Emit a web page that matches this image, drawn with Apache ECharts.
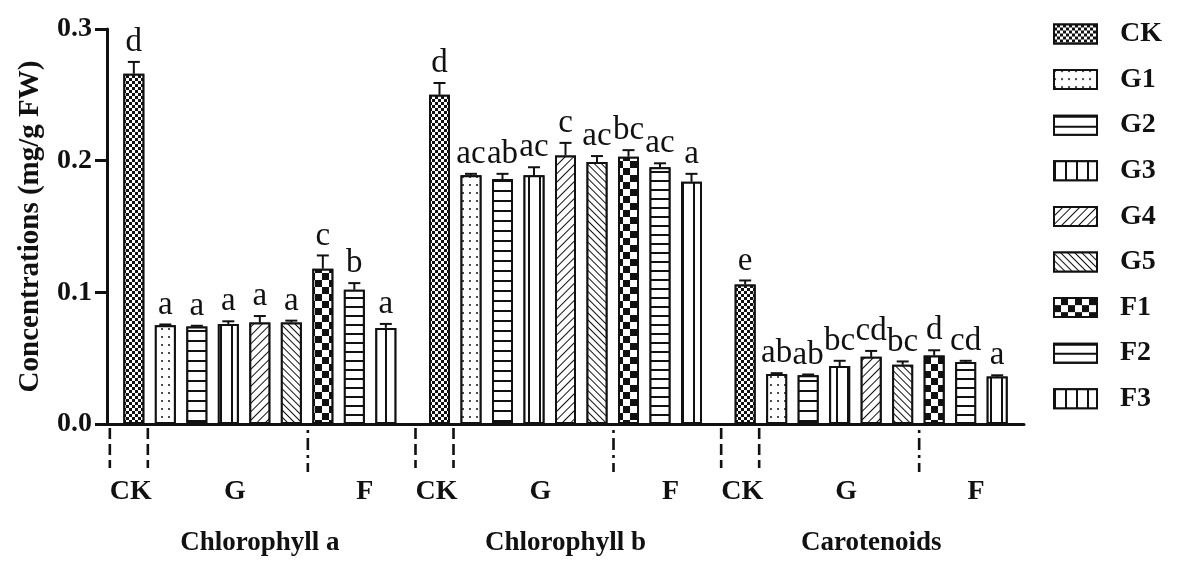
<!DOCTYPE html>
<html>
<head>
<meta charset="utf-8">
<script src="https://cdn.jsdelivr.net/npm/echarts@6/dist/echarts.min.js"></script>
<style>
html,body{margin:0;padding:0;background:#fff;}
#chart{width:1181px;height:575px;}
</style>
</head>
<body>
<div id="chart"></div>
<script>
// ---- data ----
const categories = ['Chlorophyll a', 'Chlorophyll b', 'Carotenoids'];
const treatments = ['CK', 'G1', 'G2', 'G3', 'G4', 'G5', 'F1', 'F2', 'F3'];
const chlA = [0.266, 0.075, 0.074, 0.076, 0.077, 0.077, 0.118, 0.102, 0.073];
const errA = [0.009, 0.0006, 0.0006, 0.002, 0.005, 0.0015, 0.010, 0.005, 0.003];
const chlB = [0.250, 0.189, 0.186, 0.189, 0.204, 0.199, 0.203, 0.195, 0.184];
const errB = [0.009, 0.001, 0.004, 0.006, 0.0095, 0.0045, 0.005, 0.003, 0.006];
const car  = [0.106, 0.038, 0.037, 0.044, 0.051, 0.045, 0.052, 0.047, 0.036];
const errC = [0.003, 0.0006, 0.0006, 0.004, 0.0045, 0.0025, 0.004, 0.001, 0.001];
const lettersA = ['d', 'a', 'a', 'a', 'a', 'a', 'c', 'b', 'a'];
const lettersB = ['d', 'ac', 'ab', 'ac', 'c', 'ac', 'bc', 'ac', 'a'];
const lettersC = ['e', 'ab', 'ab', 'bc', 'cd', 'bc', 'd', 'cd', 'a'];
const yTicks = [0, 0.1, 0.2, 0.3];

// ---- styles ----
const FONT = '"Liberation Serif", "Times New Roman", serif';
const INK = '#111';
const BAR_W = 21;
const SLOT = 31.5;           // bar width + gap (barGap 50%)
const decals = [
  {symbol:'rect', symbolSize:1, dashArrayX:[[3,3],[0,3,3,0]], dashArrayY:[3,0], color:INK, backgroundColor:'#fff'},
  {symbol:'circle', symbolSize:1, dashArrayX:[2,5], dashArrayY:[2,6], color:INK, backgroundColor:'#fff'},
  {symbol:'rect', symbolSize:1, dashArrayX:[10,0], dashArrayY:[2,8], color:INK, backgroundColor:'#fff'},
  {symbol:'rect', symbolSize:1, dashArrayX:[2,9], dashArrayY:[10,0], color:INK, backgroundColor:'#fff'},
  {symbol:'rect', symbolSize:1, dashArrayX:[10,0], dashArrayY:[1,5], rotation:-Math.PI/4, color:INK, backgroundColor:'#fff'},
  {symbol:'rect', symbolSize:1, dashArrayX:[10,0], dashArrayY:[1,4], rotation:Math.PI/4, color:INK, backgroundColor:'#fff'},
  {symbol:'rect', symbolSize:1, dashArrayX:[[7,7],[0,7,7,0]], dashArrayY:[7,0], color:INK, backgroundColor:'#fff'},
  {symbol:'rect', symbolSize:1, dashArrayX:[10,0], dashArrayY:[2,7], color:INK, backgroundColor:'#fff'},
  {symbol:'rect', symbolSize:1, dashArrayX:[2,9], dashArrayY:[10,0], color:INK, backgroundColor:'#fff'}
];

const groups = [chlA, chlB, car];
const errs = [errA, errB, errC];
const letters = [lettersA, lettersB, lettersC];

const barSeries = treatments.map((t, i) => ({
  name: t,
  type: 'bar',
  barWidth: BAR_W,
  barGap: '50%',
  data: groups.map(g => g[i]),
  itemStyle: {color:'#fff', borderColor:INK, borderWidth:2, decal:decals[i]},
  z: 2
}));

const errData = [];
groups.forEach((g, c) => {
  g.forEach((v, s) => errData.push([c, s, v, errs[c][s], letters[c][s]]));
});

const errSeries = {
  type: 'custom',
  silent: true,
  clip: false,
  z: 5,
  encode: {x: 0, y: 2},
  data: errData,
  renderItem: function (params, api) {
    const c = api.value(0), s = api.value(1), v = api.value(2), e = api.value(3);
    const letter = errData[params.dataIndex][4];
    const base = api.coord([c, v]);
    const top = api.coord([c, v + e]);
    const x = base[0] + (s - 4) * SLOT;
    return {
      type: 'group',
      children: [
        {type:'line', shape:{x1:x, y1:base[1], x2:x, y2:top[1]}, style:{stroke:INK, lineWidth:2}},
        {type:'line', shape:{x1:x - 6, y1:top[1], x2:x + 6, y2:top[1]}, style:{stroke:INK, lineWidth:2}},
        {type:'text', x:x, y:top[1] - 3, style:{text:letter, fontFamily:FONT, fontSize:33, fill:INK, align:'center', verticalAlign:'bottom'}}
      ]
    };
  }
};

const annotSeries = {
  type: 'custom',
  silent: true,
  clip: false,
  z: 5,
  encode: {x: 0, y: 1},
  data: categories.map((c, i) => [i, 0]),
  renderItem: function (params, api) {
    const p = api.coord([api.value(0), 0]);
    const cx = p[0], ay = p[1];
    const dash = {stroke:INK, lineWidth:2.6, lineDash:[11,5]};
    const dashDot = {stroke:INK, lineWidth:2.6, lineDash:[3,5,12,5]};
    const txt = (t, dx) => ({type:'text', x:cx + dx, y:ay + 68,
      style:{text:t, fontFamily:FONT, fontWeight:'bold', fontSize:28, fill:INK, align:'center', verticalAlign:'middle'}});
    return {
      type: 'group',
      children: [
        {type:'line', shape:{x1:cx - 150, y1:ay + 4, x2:cx - 150, y2:ay + 44}, style:dash},
        {type:'line', shape:{x1:cx - 112, y1:ay + 4, x2:cx - 112, y2:ay + 44}, style:dash},
        {type:'line', shape:{x1:cx + 48, y1:ay + 6, x2:cx + 48, y2:ay + 48}, style:dashDot},
        txt('CK', -129), txt('G', -25), txt('F', 105)
      ]
    };
  }
};

const chart = echarts.init(document.getElementById('chart'));
chart.setOption({
  animation: false,
  backgroundColor: '#fff',
  grid: {left:107, right:157, top:29, bottom:151},
  legend: {
    orient: 'vertical', left: 1053, top: 20, padding: 0,
    itemWidth: 43, itemHeight: 19, itemGap: 17.6, icon: 'rect',
    data: treatments,
    textStyle: {fontFamily:FONT, fontWeight:'bold', fontSize:28, lineHeight:28, color:INK, padding:[0,0,0,18]}
  },
  xAxis: {
    type: 'category', data: categories,
    axisLine: {lineStyle:{color:INK, width:3}},
    axisTick: {alignWithLabel:true, length:12, lineStyle:{color:INK, width:3}},
    axisLabel: {margin:106, fontFamily:FONT, fontWeight:'bold', fontSize:27, color:INK}
  },
  yAxis: {
    type: 'value', min: yTicks[0], max: yTicks[yTicks.length - 1], interval: 0.1,
    name: 'Concentrations (mg/g FW)', nameLocation: 'middle', nameGap: 62,
    nameTextStyle: {fontFamily:FONT, fontWeight:'bold', fontSize:29, color:INK},
    axisLine: {show:true, lineStyle:{color:INK, width:3}},
    axisTick: {show:true, length:12, lineStyle:{color:INK, width:3}},
    axisLabel: {margin:15, formatter: v => v.toFixed(1), fontFamily:FONT, fontWeight:'bold', fontSize:28, color:INK},
    splitLine: {show:false}
  },
  series: barSeries.concat([errSeries, annotSeries])
});
</script>
</body>
</html>
